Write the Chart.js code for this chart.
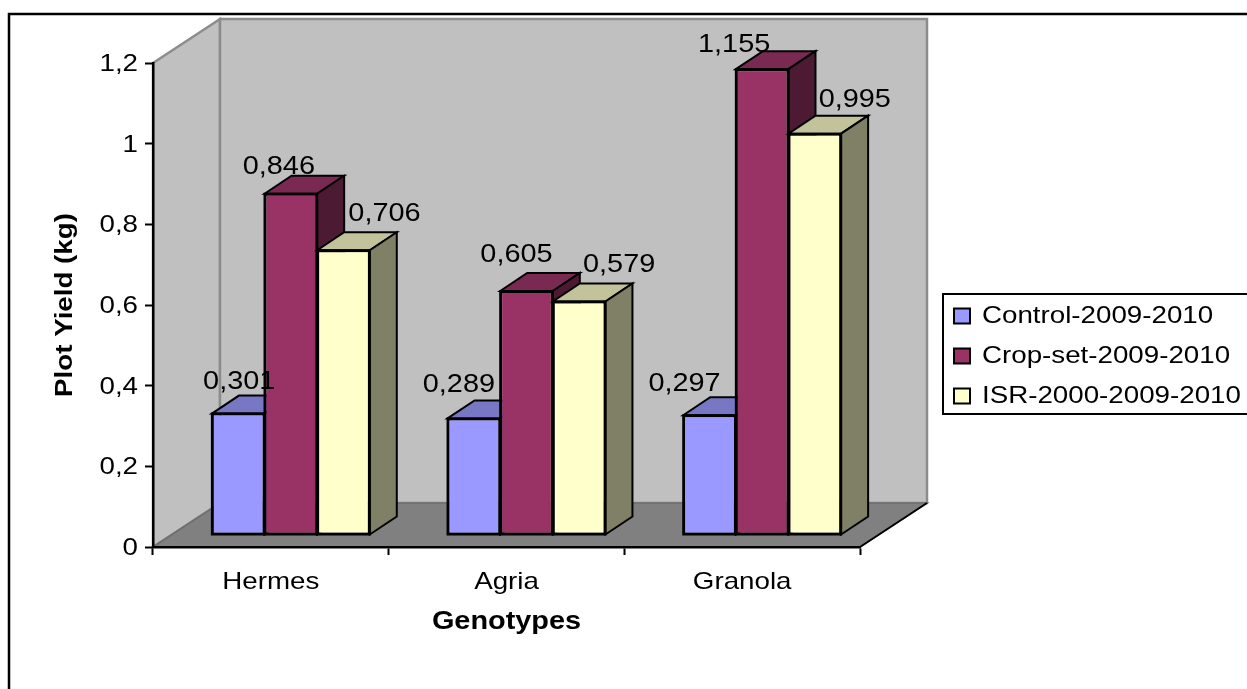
<!DOCTYPE html>
<html>
<head>
<meta charset="utf-8">
<style>
  html, body { margin: 0; padding: 0; background: #fff; }
  canvas { display: block; }
</style>
<script src="https://cdn.jsdelivr.net/npm/chart.js@4/dist/chart.umd.min.js"></script>
</head>
<body>
<canvas id="chart" width="1247" height="689"></canvas>
<script>
const genotypes = ['Hermes', 'Agria', 'Granola'];
const control = [0.301, 0.289, 0.297];
const cropSet = [0.846, 0.605, 1.155];
const isr = [0.706, 0.579, 0.995];
const yTickLabels = ['0', '0,2', '0,4', '0,6', '0,8', '1', '1,2'];

const FONT = '"Liberation Sans", Arial, sans-serif';
const TEXT_STRETCH = 1.155;

// per bar label offset from the bar centre [dx, dy above the top]
const labelNudge = [
  [[1, 31], [-15, 33], [-25, 31]],
  [[-12, 27], [-10, 36], [-28, 24]],
  [[41, 36], [40, 36], [40, 34]]
];
const barFaces = [
  { top: '#7777c4', side: '#5c5c99' },
  { top: '#7a2952', side: '#4d1a33' },
  { top: '#c2c29b', side: '#808066' }
];
const barShift = { x: 20, y: -12 };
const barDepth = { x: 27, y: 18 };
const wallDepth = { x: 67, y: 44 };

const canvas = document.getElementById('chart');
const ctx = canvas.getContext('2d');

// the source text is wider than the font, stretch it along its baseline
const rawFillText = ctx.fillText.bind(ctx);
const rawMeasure = ctx.measureText.bind(ctx);
ctx.fillText = (text, x, y) => {
  ctx.save();
  ctx.translate(x, y);
  ctx.scale(TEXT_STRETCH, 1);
  rawFillText(text, 0, 0);
  ctx.restore();
};
ctx.measureText = text => ({ width: rawMeasure(text).width * TEXT_STRETCH });

function poly(c, pts, fill, stroke, width) {
  c.beginPath();
  pts.forEach((p, i) => (i ? c.lineTo(p[0], p[1]) : c.moveTo(p[0], p[1])));
  c.closePath();
  if (fill) {
    c.fillStyle = fill;
    c.fill();
  }
  if (stroke) {
    c.strokeStyle = stroke;
    c.lineWidth = width;
    c.lineJoin = 'miter';
    c.stroke();
  }
}

const box3d = {
  id: 'box3d',
  afterLayout(chart) {
    // legend sits outside the plot, put it there by hand
    const lg = chart.legend;
    lg.left = 938;
    lg.right = 1247;
    lg.top = 288;
    lg.bottom = 600;
    lg.width = 309;
    lg.height = 312;
  },
  beforeDraw(chart) {
    const c = chart.ctx;
    const { left, right, top, bottom } = chart.chartArea;
    const dx = wallDepth.x;
    const dy = wallDepth.y;

    // outer frame, only top and left are on the picture
    c.save();
    c.strokeStyle = '#000';
    c.lineWidth = 2.5;
    c.beginPath();
    c.moveTo(9, 689);
    c.lineTo(9, 14);
    c.lineTo(1247, 14);
    c.stroke();

    // legend frame
    c.lineWidth = 2;
    c.beginPath();
    c.moveTo(1247, 294);
    c.lineTo(943, 294);
    c.lineTo(943, 414);
    c.lineTo(1247, 414);
    c.stroke();

    // walls
    poly(c, [[left, top], [left + dx, top - dy], [left + dx, bottom - dy], [left, bottom]], '#c0c0c0', '#8c8c8c', 2.5);
    poly(c, [[left + dx, top - dy], [right + dx, top - dy], [right + dx, bottom - dy], [left + dx, bottom - dy]], '#c0c0c0', '#8c8c8c', 2.5);

    // floor
    poly(c, [[left, bottom], [left + dx, bottom - dy], [right + dx, bottom - dy], [right, bottom]], '#808080', '#6e6e6e', 1.5);
    c.strokeStyle = '#000';
    c.lineWidth = 2;
    c.beginPath();
    c.moveTo(right, bottom);
    c.lineTo(right + dx, bottom - dy);
    c.stroke();
    c.restore();
  },
  // chart.js paints the last dataset first, the boxes need left to right
  beforeDatasetDraw() {
    return false;
  },
  afterDatasetsDraw(chart) {
    const c = chart.ctx;
    const dx = barDepth.x;
    const dy = barDepth.y;

    c.save();
    c.translate(barShift.x, barShift.y);
    chart.data.datasets.forEach((ds, i) => {
      const meta = chart.getDatasetMeta(i);
      meta.controller.draw();
      meta.data.forEach(el => {
        const l = el.x - el.width / 2;
        const r = el.x + el.width / 2;
        poly(c, [[l, el.y], [l + dx, el.y - dy], [r + dx, el.y - dy], [r, el.y]], barFaces[i].top, '#000', 2);
        poly(c, [[r, el.y], [r + dx, el.y - dy], [r + dx, el.base - dy], [r, el.base]], barFaces[i].side, '#000', 2);
        // front outline on the same line as the other two faces
        poly(c, [[l, el.y], [r, el.y], [r, el.base], [l, el.base]], null, '#000', 2);
      });
    });
    c.restore();

    // value labels go over everything
    c.save();
    c.font = '25px ' + FONT;
    c.fillStyle = '#000';
    c.textAlign = 'center';
    c.textBaseline = 'middle';
    chart.data.datasets.forEach((ds, i) => {
      chart.getDatasetMeta(i).data.forEach((el, j) => {
        const nudge = labelNudge[i][j];
        const label = String(ds.data[j]).replace('.', ',');
        c.fillText(label, el.x + barShift.x + nudge[0], el.y + barShift.y - nudge[1]);
      });
    });
    c.restore();
  }
};

new Chart(ctx, {
  type: 'bar',
  data: {
    labels: genotypes,
    datasets: [
      { label: 'Control-2009-2010', data: control, backgroundColor: '#9999ff' },
      { label: 'Crop-set-2009-2010', data: cropSet, backgroundColor: '#993366' },
      { label: 'ISR-2000-2009-2010', data: isr, backgroundColor: '#ffffcc' }
    ]
  },
  options: {
    responsive: false,
    animation: false,
    devicePixelRatio: 1,
    layout: { padding: { left: 12, top: 63, right: 387, bottom: 0 } },
    datasets: {
      bar: {
        categoryPercentage: 0.67,
        barPercentage: 1,
        borderColor: '#000',
        borderWidth: 2,
        borderSkipped: false,
        clip: false
      }
    },
    scales: {
      x: {
        afterFit: s => { s.height = 142; },
        grid: { drawOnChartArea: false, offset: true, tickLength: 8, tickColor: '#000', tickWidth: 2 },
        border: { color: '#000', width: 2.5 },
        ticks: { color: '#000', font: { family: FONT, size: 24 }, padding: 13, maxRotation: 0 },
        title: {
          display: true,
          text: 'Genotypes',
          color: '#000',
          font: { family: FONT, size: 25, weight: 'bold' },
          padding: { top: 8, bottom: 52 }
        }
      },
      y: {
        min: 0,
        max: 1.2,
        afterFit: s => { s.width = 141; },
        grid: { drawOnChartArea: false, tickLength: 8, tickColor: '#000', tickWidth: 2 },
        border: { color: '#000', width: 2.5 },
        ticks: {
          stepSize: 0.2,
          color: '#000',
          font: { family: FONT, size: 24 },
          padding: 7,
          labelOffset: 1.5,
          callback: (v, i) => yTickLabels[i]
        },
        title: {
          display: true,
          text: 'Plot Yield (kg)',
          color: '#000',
          font: { family: FONT, size: 24, weight: 'bold' },
          padding: { top: 39, bottom: 0 }
        }
      }
    },
    plugins: {
      tooltip: { enabled: false },
      legend: {
        position: 'chartArea',
        align: 'start',
        labels: {
          color: '#000',
          font: { family: FONT, size: 24 },
          boxWidth: 16,
          boxHeight: 15,
          padding: 16
        }
      }
    }
  },
  plugins: [box3d]
});
</script>
</body>
</html>
